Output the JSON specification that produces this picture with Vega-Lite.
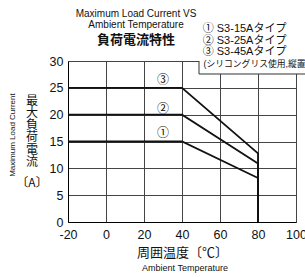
{
  "$schema": "https://vega.github.io/schema/vega-lite/v6.json",
  "width": 228,
  "height": 161,
  "autosize": {"type": "none"},
  "padding": {"left": 68, "top": 61, "right": 9, "bottom": 55},
  "background": "white",
  "config": {
    "view": {"stroke": null},
    "font": "Liberation Sans",
    "axis": {
      "grid": true,
      "gridColor": "#444",
      "gridWidth": 1,
      "gridOpacity": 1,
      "domainColor": "#000",
      "domainWidth": 1,
      "ticks": false,
      "labelFont": "Liberation Sans",
      "labelFontSize": 12.5,
      "labelColor": "#111",
      "labelOverlap": false,
      "titleColor": "#111",
      "titleFontWeight": "normal"
    }
  },
  "encoding": {
    "x": {"field": "t", "type": "quantitative",
          "scale": {"domain": [-20, 100], "nice": false, "zero": false},
          "axis": {"values": [-20, 0, 20, 40, 60, 80, 100], "tickCount": 7, "labelPadding": 6,
                   "labelOverlap": false, "labelFlush": false, "labelSeparation": 0,
                   "labelExpr": "'' + datum.value",
                   "title": "周囲温度〔℃〕", "titleFont": "Noto Sans CJK JP", "titleFontSize": 13,
                   "titlePadding": 6}},
    "y": {"field": "i", "type": "quantitative",
          "scale": {"domain": [0, 30], "nice": false},
          "axis": {"values": [0, 5, 10, 15, 20, 25, 30], "labelPadding": 5, "labelOverlap": false, "title": null}}
  },
  "layer": [
    {
      "data": {"values": [
        {"series": "S3-15A", "t": -20, "i": 15, "o": 1},
        {"series": "S3-15A", "t": 40, "i": 15, "o": 2},
        {"series": "S3-15A", "t": 80, "i": 8.2, "o": 3},
        {"series": "S3-15A", "t": 80, "i": 0, "o": 4},
        {"series": "S3-25A", "t": -20, "i": 20, "o": 1},
        {"series": "S3-25A", "t": 40, "i": 20, "o": 2},
        {"series": "S3-25A", "t": 80, "i": 10.9, "o": 3},
        {"series": "S3-25A", "t": 80, "i": 0, "o": 4},
        {"series": "S3-45A", "t": -20, "i": 25, "o": 1},
        {"series": "S3-45A", "t": 40, "i": 25, "o": 2},
        {"series": "S3-45A", "t": 80, "i": 12.8, "o": 3},
        {"series": "S3-45A", "t": 80, "i": 0, "o": 4}
      ]},
      "mark": {"type": "line", "color": "#111", "strokeWidth": 1.8},
      "encoding": {
        "detail": {"field": "series"},
        "order": {"field": "o"}
      }
    },
    {
      "data": {"values": [{"t": 48.95, "t2": 108, "i": 27.58, "i2": 42}]},
      "mark": {"type": "rect", "fill": "white", "stroke": null},
      "encoding": {
        "x2": {"field": "t2"},
        "y2": {"field": "i2"}
      }
    },
    {
      "data": {"values": [
        {"t": 48.95, "t2": 48.95, "i": 27.58, "i2": 30},
        {"t": 48.95, "t2": 108, "i": 27.58, "i2": 27.58}
      ]},
      "mark": {"type": "rule", "color": "#333", "strokeWidth": 1},
      "encoding": {
        "x2": {"field": "t2"},
        "y2": {"field": "i2"}
      }
    },
    {
      "data": {"values": [
        {"label": "①", "t": 30, "i": 16.5},
        {"label": "②", "t": 30, "i": 21.1},
        {"label": "③", "t": 30, "i": 26.4}
      ]},
      "mark": {"type": "text", "font": "Noto Sans CJK JP", "fontSize": 12, "color": "#111", "align": "center", "baseline": "middle"},
      "encoding": {
        "text": {"field": "label"}
      }
    },
    {
      "data": {"values": [
        {"label": "① S3-15Aタイプ", "t": 50.9, "i": 36.05, "s": 11},
        {"label": "② S3-25Aタイプ", "t": 50.9, "i": 33.78, "s": 11},
        {"label": "③ S3-45Aタイプ", "t": 50.9, "i": 31.62, "s": 11},
        {"label": "(シリコングリス使用,縦置き)", "t": 51.3, "i": 29.38, "s": 8.8}
      ]},
      "mark": {"type": "text", "font": "Liberation Sans, Noto Sans CJK JP", "color": "#111", "align": "left", "baseline": "middle"},
      "encoding": {
        "text": {"field": "label"},
        "size": {"field": "s", "type": "quantitative", "scale": null}
      }
    },
    {
      "data": {"values": [
        {"label": "Maximum Load Current VS", "t": 15.8, "i": 38.75, "s": 10},
        {"label": "Ambient Temperature", "t": 15.8, "i": 36.7, "s": 10},
        {"label": "Ambient Temperature", "t": 41.6, "i": -8.5, "s": 9}
      ]},
      "mark": {"type": "text", "font": "Liberation Sans", "color": "#111", "align": "center", "baseline": "middle"},
      "encoding": {
        "text": {"field": "label"},
        "size": {"field": "s", "type": "quantitative", "scale": null}
      }
    },
    {
      "data": {"values": [{"label": "負荷電流特性", "t": 15.8, "i": 33.91}]},
      "mark": {"type": "text", "font": "Noto Sans CJK JP", "fontSize": 13, "fontWeight": "bold", "color": "#111", "align": "center", "baseline": "middle"},
      "encoding": {
        "text": {"field": "label"}
      }
    },
    {
      "data": {"values": [
        {"label": ["最", "大", "負", "荷", "電", "流"], "t": -38.95, "i": 23.5}
      ]},
      "mark": {"type": "text", "font": "Noto Sans CJK JP", "fontSize": 12, "lineHeight": 12.2, "color": "#111", "align": "center", "baseline": "top"},
      "encoding": {
        "text": {"field": "label"}
      }
    },
    {
      "data": {"values": [
        {"label": "〔A〕", "t": -38.95, "i": 7.27}
      ]},
      "mark": {"type": "text", "font": "Noto Sans CJK JP", "fontSize": 12, "color": "#111", "align": "center", "baseline": "middle"},
      "encoding": {
        "text": {"field": "label"}
      }
    },
    {
      "data": {"values": [{"label": "Maximum Load Current", "t": -48.9, "i": 16.2}]},
      "mark": {"type": "text", "font": "Liberation Sans", "fontSize": 8, "color": "#111", "align": "center", "baseline": "middle", "angle": 270},
      "encoding": {
        "text": {"field": "label"}
      }
    }
  ]
}
